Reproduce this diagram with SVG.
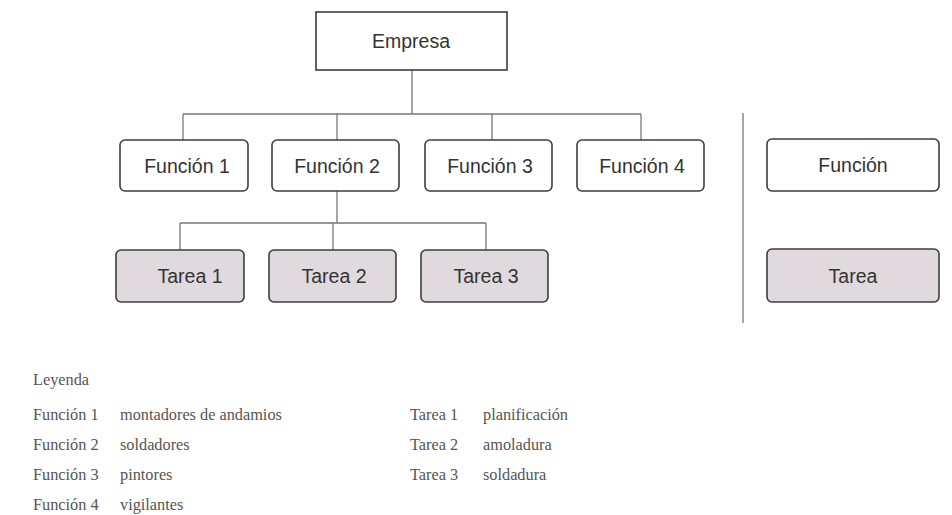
<svg xmlns="http://www.w3.org/2000/svg" width="952" height="515" viewBox="0 0 952 515">
<style>
.box{fill:#fff;stroke:#3c3c3c;stroke-width:1.6}
.task{fill:#e0d9dd;stroke:#3c3c3c;stroke-width:1.6}
.lbl{font-family:"Liberation Sans",Arial,sans-serif;font-size:19.5px;fill:#333;text-anchor:middle}
.con{stroke:#777;stroke-width:1.3;fill:none}
.leg{font-family:"Liberation Serif","Times New Roman",serif;font-size:16.3px;fill:#555}
</style>
<rect width="952" height="515" fill="#fff"/>
<g id="connectors">
<path class="con" d="M412 70V114M183 114H641M183 114V140M337 114V140M492 114V140M641 114V140"/>
<path class="con" d="M337 191V223M180 223H486M180 223V250M333 223V250M486 223V250"/>
<path class="con" d="M743 113V323"/>
</g>
<g id="empresa"><rect class="box" x="316" y="12" width="191" height="58"/><text class="lbl" x="411" y="48">Empresa</text></g>
<g id="funcion1"><rect class="box" x="120" y="140" width="128" height="51" rx="5"/><text class="lbl" x="187" y="173">Función 1</text></g>
<g id="funcion2"><rect class="box" x="272" y="140" width="127" height="51" rx="5"/><text class="lbl" x="337" y="173">Función 2</text></g>
<g id="funcion3"><rect class="box" x="425" y="140" width="127" height="51" rx="5"/><text class="lbl" x="490" y="173">Función 3</text></g>
<g id="funcion4"><rect class="box" x="577" y="140" width="127" height="51" rx="5"/><text class="lbl" x="642" y="173">Función 4</text></g>
<g id="tarea1"><rect class="task" x="116" y="250" width="128" height="52" rx="5"/><text class="lbl" x="190" y="283">Tarea 1</text></g>
<g id="tarea2"><rect class="task" x="269" y="250" width="127" height="52" rx="5"/><text class="lbl" x="334" y="283">Tarea 2</text></g>
<g id="tarea3"><rect class="task" x="421" y="250" width="127" height="52" rx="5"/><text class="lbl" x="486" y="283">Tarea 3</text></g>
<g id="funcion-key"><rect class="box" x="767" y="139" width="172" height="52" rx="5"/><text class="lbl" x="853" y="172">Función</text></g>
<g id="tarea-key"><rect class="task" x="767" y="249" width="172" height="53" rx="5"/><text class="lbl" x="853" y="283">Tarea</text></g>
<g id="legend">
<text class="leg" x="33" y="385">Leyenda</text>
<text class="leg" x="33" y="420">Función 1</text><text class="leg" x="120" y="420">montadores de andamios</text>
<text class="leg" x="33" y="450">Función 2</text><text class="leg" x="120" y="450">soldadores</text>
<text class="leg" x="33" y="480">Función 3</text><text class="leg" x="120" y="480">pintores</text>
<text class="leg" x="33" y="510">Función 4</text><text class="leg" x="120" y="510">vigilantes</text>
<text class="leg" x="410" y="420">Tarea 1</text><text class="leg" x="483" y="420">planificación</text>
<text class="leg" x="410" y="450">Tarea 2</text><text class="leg" x="483" y="450">amoladura</text>
<text class="leg" x="410" y="480">Tarea 3</text><text class="leg" x="483" y="480">soldadura</text>
</g>
</svg>
